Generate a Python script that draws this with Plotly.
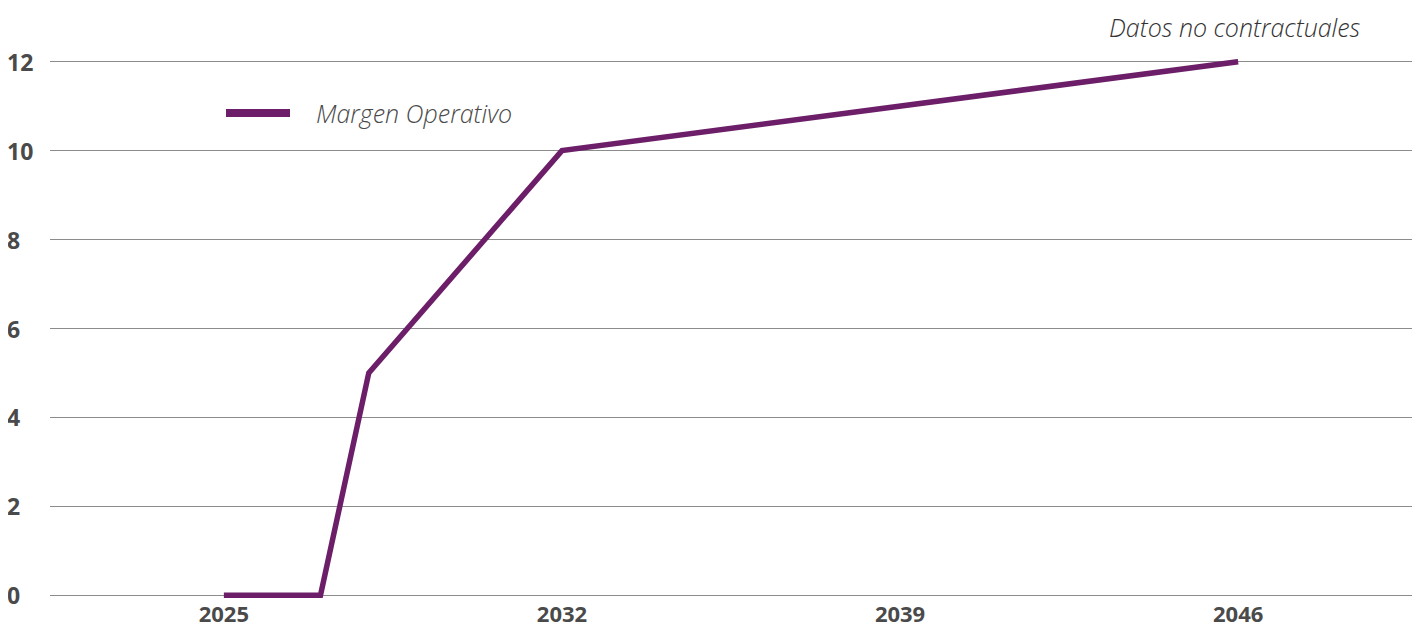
import plotly.graph_objects as go

years = [2025, 2027, 2028, 2032, 2046]
margen = [0, 0, 5, 10, 12]
x_ticks = [2025, 2032, 2039, 2046]
y_ticks = [0, 2, 4, 6, 8, 10, 12]

LINE_COLOR = "#6c1f68"
TEXT_COLOR = "#4a4a4a"

# the page body adds an 8px margin, so the figure is 8px smaller
PL, PW = 50, 1362  # plot area left / width in page pixels
PB, PH = 598, 539  # plot area bottom / height in page pixels


def px_x(p):
    return (p - PL) / PW


def px_y(p):
    return (PB - p) / PH


fig = go.Figure(
    go.Scatter(
        x=years,
        y=margen,
        mode="lines",
        name="Margen Operativo",
        line=dict(color=LINE_COLOR, width=5.5),
        showlegend=False,
    )
)

# legend drawn by hand so the sample line is long like the original
fig.add_shape(
    type="line",
    xref="paper",
    yref="paper",
    x0=px_x(226),
    x1=px_x(290),
    y0=px_y(113),
    y1=px_y(113),
    line=dict(color=LINE_COLOR, width=8),
)
fig.add_annotation(
    text="<i>Margen Operativo</i>",
    xref="paper",
    yref="paper",
    x=px_x(314),
    y=px_y(113),
    xanchor="left",
    yanchor="middle",
    showarrow=False,
    font=dict(family="Open Sans", size=25, color=TEXT_COLOR, weight=300),
)
fig.add_annotation(
    text="<i>Datos no contractuales</i>",
    xref="paper",
    yref="paper",
    x=px_x(1363),
    y=px_y(27),
    xanchor="right",
    yanchor="middle",
    showarrow=False,
    font=dict(family="Open Sans", size=25, color="#333333", weight=300),
)

# left-aligned y tick labels
for v in y_ticks:
    fig.add_annotation(
        text=f"<b>{v}</b>",
        xref="paper",
        yref="y",
        x=px_x(5),
        y=v,
        xanchor="left",
        yanchor="middle",
        showarrow=False,
        font=dict(family="Open Sans", size=23, color=TEXT_COLOR),
    )

fig.update_layout(
    width=1414,
    height=623,
    paper_bgcolor="white",
    plot_bgcolor="white",
    margin=go.layout.Margin(l=42, r=10, t=51, b=33),
    xaxis=dict(
        range=[2021.4, 2049.6],
        tickvals=x_ticks,
        showgrid=False,
        zeroline=False,
        showline=False,
        automargin=False,
        ticklabelstandoff=1,
        tickfont=dict(family="Open Sans", size=22, color=TEXT_COLOR, weight="bold"),
    ),
    yaxis=dict(
        range=[-0.06, 12.06],
        tickvals=y_ticks,
        showgrid=True,
        gridcolor="#8c8c8c",
        gridwidth=1,
        zeroline=False,
        showline=False,
        showticklabels=False,
        automargin=False,
    ),
)

fig.write_html("out.html")
